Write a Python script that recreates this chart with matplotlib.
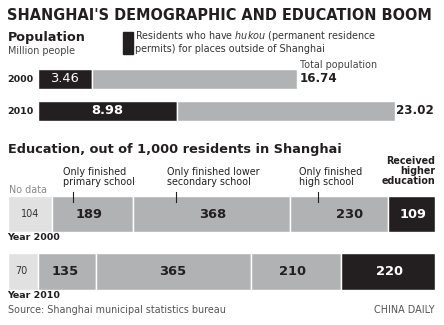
import numpy as np
import matplotlib.pyplot as plt

plt.rcParams['font.family'] = ['DejaVu Sans']

# population, million people
pop_years = ['2000', '2010']
pop_outside = [3.46, 8.98]
pop_total = [16.74, 23.02]

# education, out of 1,000 residents
edu_years = ['Year 2000', 'Year 2010']
edu_cats = ['No data', 'Only finished\nprimary school', 'Only finished lower\nsecondary school',
            'Only finished\nhigh school', 'Received\nhigher\neducation']
edu_2000 = [104, 189, 368, 230, 109]
edu_2010 = [70, 135, 365, 210, 220]

W, H = 444, 325
BLACK = '#231f20'
GREY = '#b1b2b4'
LIGHT = '#e1e1e2'
BODY = 6.9

fig = plt.figure(figsize=(W / 100, H / 100), dpi=100)


def txt(x, y, s, **kw):
    kw.setdefault('va', 'center')
    kw.setdefault('color', BLACK)
    fig.text(x / W, 1 - y / H, s, **kw)


# title
txt(7, 16, "SHANGHAI'S DEMOGRAPHIC AND EDUCATION BOOM", fontsize=10.45, fontweight='heavy')

# population section
txt(8, 37, 'Population', fontsize=9.2, fontweight='bold')
txt(8, 51, 'Million people', fontsize=BODY, color='#444444')
txt(135, 36, 'Residents who have $\\it{hukou}$ (permanent residence', fontsize=BODY, color='#333333')
txt(135, 49, 'permits) for places outside of Shanghai', fontsize=BODY, color='#333333')
fig.patches.append(plt.Rectangle((123 / W, 1 - 54 / H), 10 / W, 22 / H,
                                 transform=fig.transFigure, color=BLACK))

ax1 = fig.add_axes([38 / W, 0, 395 / W, 1])
ax1.set_xlim(0, 25.5)
ax1.set_ylim(H, 0)
ax1.axis('off')
pop_y = [78.5, 110.5]
for i, yr in enumerate(pop_years):
    ax1.barh(pop_y[i], pop_outside[i], height=20, color=BLACK, edgecolor='white', linewidth=1)
    ax1.barh(pop_y[i], pop_total[i] - pop_outside[i], left=pop_outside[i], height=20,
             color=GREY, edgecolor='white', linewidth=1)
    txt(7, pop_y[i] + 1, yr, fontsize=6.8, fontweight='bold')

txt(64, 79, '3.46', fontsize=9.4, color='white', ha='center')
txt(107, 111, '8.98', fontsize=9.4, color='white', ha='center', fontweight='bold')
txt(300, 65, 'Total population', fontsize=BODY, color='#444444')
txt(300, 79, '16.74', fontsize=8.6, fontweight='bold')
txt(396, 111, '23.02', fontsize=8.6, fontweight='bold')

# education section
txt(8, 150, 'Education, out of 1,000 residents in Shanghai', fontsize=9.3, fontweight='bold')

ax2 = fig.add_axes([8 / W, 0, 427 / W, 1])
ax2.set_xlim(0, 1000)
ax2.set_ylim(H, 0)
ax2.axis('off')
edu_y = [214, 271.5]
edu_h = [36, 37]
colors = [LIGHT, GREY, GREY, GREY, BLACK]
for vals, y, h in zip([edu_2000, edu_2010], edu_y, edu_h):
    left = np.concatenate([[0], np.cumsum(vals)[:-1]])
    ax2.barh(y, vals, left=left, height=h, color=colors, edgecolor='white', linewidth=1)

# value labels
label_x_2000 = [30, 89, 213, 350, 413]
label_x_2010 = [21, 65, 173, 292, 389]
for vals, xs, y in zip([edu_2000, edu_2010], [label_x_2000, label_x_2010], edu_y):
    for j, (v, x) in enumerate(zip(vals, xs)):
        if j == 0:
            txt(x, y, str(v), fontsize=BODY, ha='center', color='#333333')
        else:
            txt(x, y, str(v), fontsize=9.4, ha='center', fontweight='heavy',
                color='white' if j == 4 else BLACK)

txt(9, 190, edu_cats[0], fontsize=BODY, color='#888888')
txt(63, 177, edu_cats[1], fontsize=BODY, linespacing=1.0)
txt(167, 177, edu_cats[2], fontsize=BODY, linespacing=1.0)
txt(299, 177, edu_cats[3], fontsize=BODY, linespacing=1.0)
txt(435, 171, edu_cats[4], fontsize=BODY, fontweight='bold', ha='right', linespacing=1.0)
for x in [72.5, 175.5, 317.5]:
    fig.add_artist(plt.Line2D([x / W, x / W], [1 - 192 / H, 1 - 202 / H], color=BLACK, lw=0.8))

txt(7, 237, edu_years[0], fontsize=6.8, fontweight='bold')
txt(7, 296, edu_years[1], fontsize=6.8, fontweight='bold')
txt(8, 310, 'Source: Shanghai municipal statistics bureau', fontsize=BODY, color='#555555')
txt(435, 310, 'CHINA DAILY', fontsize=BODY, color='#555555', ha='right')

fig.savefig('out.png', dpi=100)
